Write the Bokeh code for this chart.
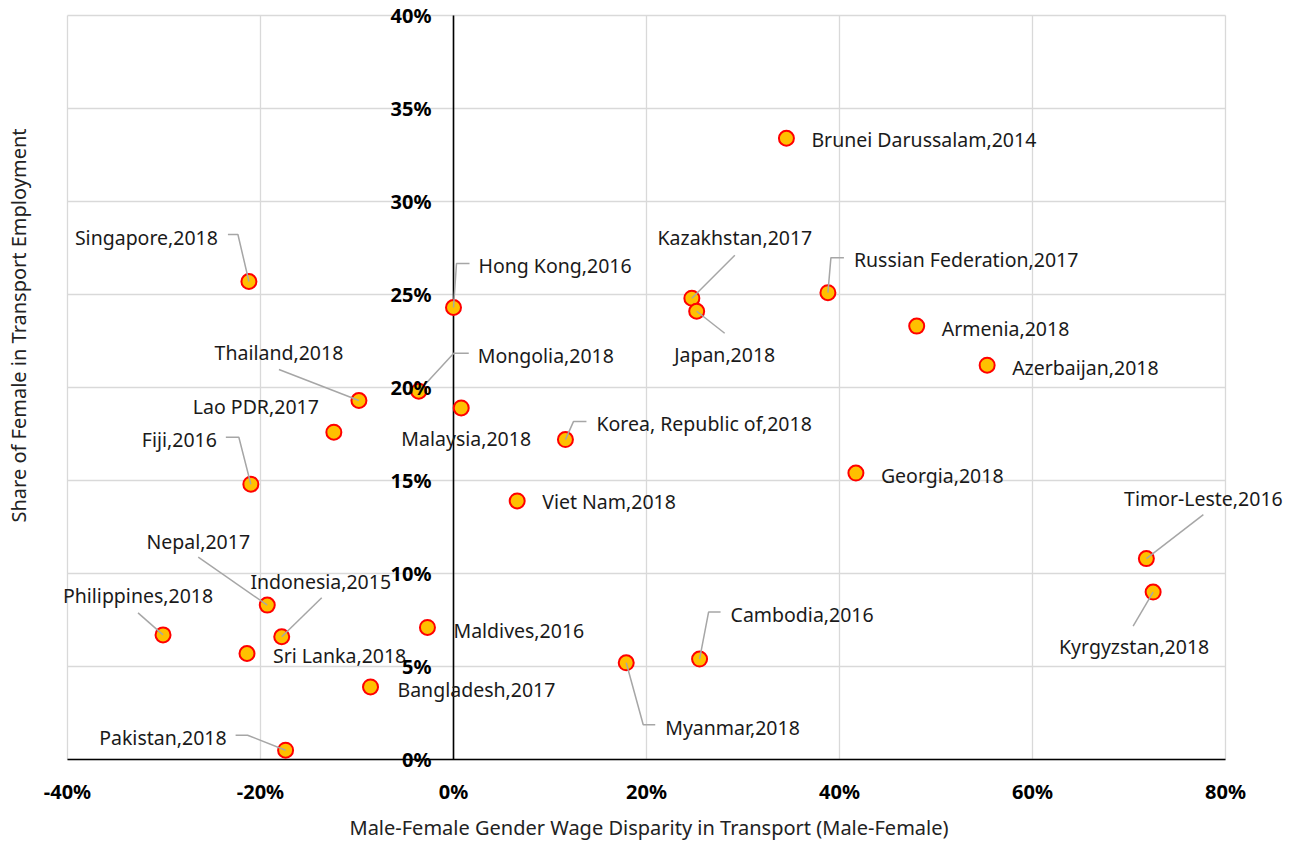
import math
from bokeh.plotting import figure
from bokeh.models import ColumnDataSource, Label, FixedTicker, PrintfTickFormatter
from bokeh.embed import file_html
from bokeh.resources import INLINE

# ---------------- data ----------------
countries = ["Singapore", "Hong Kong", "Mongolia", "Malaysia", "Korea, Republic of",
             "Kazakhstan", "Japan", "Russian Federation", "Brunei Darussalam",
             "Armenia", "Azerbaijan", "Georgia", "Timor-Leste", "Kyrgyzstan",
             "Thailand", "Lao PDR", "Fiji", "Nepal", "Philippines", "Indonesia",
             "Sri Lanka", "Bangladesh", "Pakistan", "Maldives", "Myanmar",
             "Cambodia", "Viet Nam"]
years = [2018, 2016, 2018, 2018, 2018,
         2017, 2018, 2017, 2014,
         2018, 2018, 2018, 2016, 2018,
         2018, 2017, 2016, 2017, 2018, 2015,
         2018, 2017, 2018, 2016, 2018,
         2016, 2018]
wage_gap = [-21.2, 0.0, -3.6, 0.8, 11.6,
            24.7, 25.2, 38.8, 34.5,
            48.0, 55.3, 41.7, 71.8, 72.5,
            -9.8, -12.4, -21.0, -19.3, -30.1, -17.8,
            -21.4, -8.6, -17.4, -2.7, 17.9,
            25.5, 6.6]
female_share = [25.7, 24.3, 19.8, 18.9, 17.2,
                24.8, 24.1, 25.1, 33.4,
                23.3, 21.2, 15.4, 10.8, 9.0,
                19.3, 17.6, 14.8, 8.3, 6.7, 6.6,
                5.7, 3.9, 0.5, 7.1, 5.2,
                5.4, 13.9]
x_ticks = [-40, -20, 0, 20, 40, 60, 80]
y_ticks = [0, 5, 10, 15, 20, 25, 30, 35, 40]
y_tick_labels = [f"{v}%" for v in y_ticks]
x_title = "Male-Female Gender Wage Disparity in Transport (Male-Female)"
y_title = "Share of Female in Transport Employment"

# ------------- label placement (screen px, y down) -------------
label_style = {
    "Singapore": ("right", -31, -44, [(-11, -47), (-21, -47)]),
    "Hong Kong": ("left", 25, -42, [(3, -44), (16, -44)]),
    "Mongolia": ("left", 59, -36, [(35, -38), (50, -38)]),
    "Malaysia": ("center", 5, 31, None),
    "Korea, Republic of": ("left", 31, -16, [(8, -18), (21, -18)]),
    "Kazakhstan": ("center", 43, -61, [(43, -43)]),
    "Japan": ("center", 28, 43, [(28, 22)]),
    "Russian Federation": ("left", 26, -33, [(3, -35), (16, -35)]),
    "Brunei Darussalam": ("left", 25, 1, None),
    "Armenia": ("left", 25, 2, None),
    "Azerbaijan": ("left", 25, 2, None),
    "Georgia": ("left", 25, 2, None),
    "Timor-Leste": ("center", 57, -60, [(57, -44)]),
    "Kyrgyzstan": ("center", -19, 54, [(-20, 34)]),
    "Thailand": ("center", -80, -48, [(-80, -31)]),
    "Lao PDR": ("right", -15, -26, None),
    "Fiji": ("right", -34, -45, [(-12, -47), (-25, -47)]),
    "Nepal": ("center", -69, -64, [(-69, -48)]),
    "Philippines": ("center", -25, -39, [(-25, -22)]),
    "Indonesia": ("center", 39, -55, [(40, -39)]),
    "Sri Lanka": ("left", 26, 2, None),
    "Bangladesh": ("left", 27, 3, None),
    "Pakistan": ("right", -59, -13, [(-38, -15), (-50, -15)]),
    "Maldives": ("left", 26, 3, None),
    "Myanmar": ("left", 39, 65, [(17, 62), (29, 62)]),
    "Cambodia": ("left", 31, -45, [(9, -47), (21, -47)]),
    "Viet Nam": ("left", 25, 1, None),
}

# ------------- layout (px) -------------
X_MIN, X_MAX, Y_MIN, Y_MAX = -40, 80, 0, 40
PLOT_W, PLOT_H = 1158, 744          # size of the -40..80 x 0..40 box
PAD_L, PAD_R, PAD_T, PAD_B = 67, 72, 12, 12   # frame extends beyond the box
px_x = PLOT_W / (X_MAX - X_MIN)
px_y = PLOT_H / (Y_MAX - Y_MIN)
FRAME_W = PLOT_W + PAD_L + PAD_R
FRAME_H = PLOT_H + PAD_T + PAD_B

FONT = "Noto Sans"

p = figure(frame_width=FRAME_W, frame_height=FRAME_H,
           x_range=(X_MIN - PAD_L / px_x, X_MAX + PAD_R / px_x),
           y_range=(Y_MIN - PAD_B / px_y, Y_MAX + PAD_T / px_y),
           output_backend="svg", toolbar_location=None, y_axis_location=None,
           min_border_left=0, min_border_right=0, min_border_top=3,
           min_border_bottom=73)
p.outline_line_color = None
p.grid.visible = False
p.background_fill_color = "white"
p.border_fill_color = "white"

# gridlines
p.segment(x0=x_ticks, y0=[Y_MIN] * len(x_ticks), x1=x_ticks, y1=[Y_MAX] * len(x_ticks),
          line_color="#d9d9d9", line_width=1.3)
p.segment(x0=[X_MIN] * len(y_ticks), y0=y_ticks, x1=[X_MAX] * len(y_ticks), y1=y_ticks,
          line_color="#d9d9d9", line_width=1.3)
# axis lines (x axis at y=0, y axis at x=0)
p.segment(x0=[X_MIN, 0], y0=[0, Y_MIN], x1=[X_MAX, 0], y1=[0, Y_MAX],
          line_color="black", line_width=1.6)

# x axis (tick labels + title)
p.xaxis.ticker = FixedTicker(ticks=x_ticks)
p.xaxis.formatter = PrintfTickFormatter(format="%d%%")
p.xaxis.axis_line_color = None
p.xaxis.major_tick_line_color = None
p.xaxis.minor_tick_line_color = None
p.xaxis.major_label_standoff = 0
p.xaxis.major_label_text_font = FONT
p.xaxis.major_label_text_font_style = "bold"
p.xaxis.major_label_text_font_size = "20px"
p.xaxis.major_label_text_color = "black"
p.xaxis.axis_label = x_title
p.xaxis.axis_label_text_font = FONT
p.xaxis.axis_label_text_font_style = "normal"
p.xaxis.axis_label_text_font_size = "20px"
p.xaxis.axis_label_text_color = "#222222"
p.xaxis.axis_label_standoff = 6

# y title (placed like the reference, left of the box)
p.add_layout(Label(x=X_MIN, y=(Y_MIN + Y_MAX) / 2, x_offset=-49, y_offset=62,
                   text=y_title, angle=math.pi / 2, text_align="center",
                   text_baseline="middle", text_font=FONT, text_font_size="20px",
                   text_color="#222222"))

# points and leader lines
lx, ly = [], []
for c, xv, yv in zip(countries, wage_gap, female_share):
    leader = label_style[c][3]
    if leader:
        lx.append([xv] + [xv + a / px_x for a, b in leader])
        ly.append([yv] + [yv - b / px_y for a, b in leader])

src = ColumnDataSource(dict(x=wage_gap, y=female_share))
p.scatter("x", "y", source=src, size=15, fill_color="#FFC000",
          line_color="#FF0000", line_width=2)
p.multi_line(lx, ly, line_color="#a6a6a6", line_width=1.5)

for c, yr, xv, yv in zip(countries, years, wage_gap, female_share):
    al, dx, dy, _ = label_style[c]
    p.add_layout(Label(x=xv, y=yv, text=f"{c},{yr}", x_offset=dx, y_offset=-dy,
                       text_align=al, text_baseline="middle", text_font=FONT,
                       text_font_size="19.5px", text_color="#1a1a1a"))

# y tick labels next to the axis at x=0
for yv, t in zip(y_ticks, y_tick_labels):
    p.add_layout(Label(x=0, y=yv, text=t, x_offset=-22, text_align="right",
                       text_baseline="middle", text_font=FONT,
                       text_font_style="bold", text_font_size="20px",
                       text_color="black"))

open("out.html", "w").write(file_html(p, INLINE))
